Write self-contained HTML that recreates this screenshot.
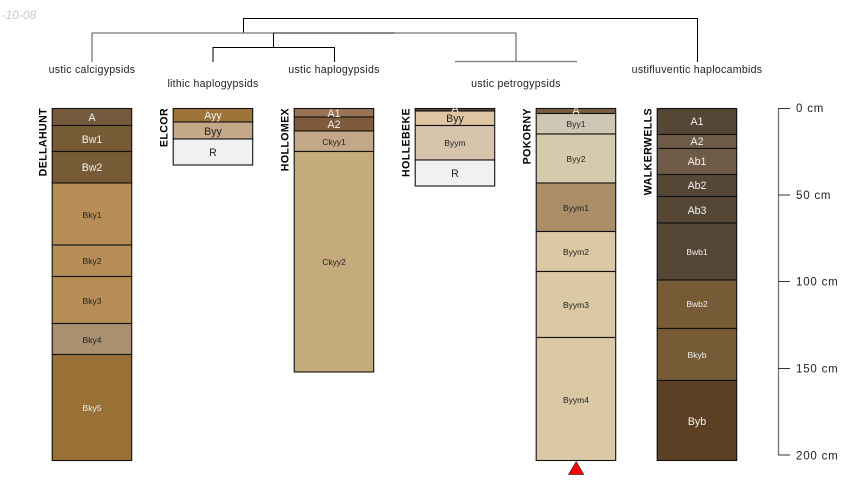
<!DOCTYPE html>
<html><head><meta charset="utf-8"><style>
html,body{margin:0;padding:0;background:#fff}
svg{display:block}
text{font-family:"Liberation Sans",sans-serif}
.t{font-size:10.6px;fill:#222;text-anchor:middle;letter-spacing:.27px}
.n{font-size:10.6px;font-weight:bold;fill:#000;text-anchor:end;letter-spacing:.4px}
.l{font-size:10.6px;text-anchor:middle}
.s{font-size:8.5px;text-anchor:middle}
.a{font-size:11.5px;fill:#222;letter-spacing:.8px}
.h{stroke:#000;stroke-width:1.100;fill:none}
.h rect{stroke:#111}
</style></head><body>
<svg width="850" height="500" viewBox="0 0 850 500" xmlns="http://www.w3.org/2000/svg">
<rect width="850" height="500" fill="#fff"/>
<text x="1.500" y="19" font-size="12" font-style="italic" fill="#c8c8c8">-10-08</text>

<g fill="none" stroke-width="1">
<path d="M243.500 33V18.500H697.500V62" stroke="#000"/>
<path d="M92 62V33H273" stroke="#777" stroke-width="1.300"/>
<path d="M273 33H395" stroke="#444" stroke-width="1.300"/>
<path d="M395 33H516V61.500" stroke="#777" stroke-width="1.300"/>
<path d="M455 61.500H577" stroke="#777" stroke-width="1.300"/>
<path d="M273.500 33V47.500" stroke="#000"/>
<path d="M213 62V47.500H334.500V62" stroke="#000"/>
</g>
<text class="t" x="92" y="73">ustic calcigypsids</text>
<text class="t" x="213" y="87">lithic haplogypsids</text>
<text class="t" x="334" y="73">ustic haplogypsids</text>
<text class="t" x="516" y="87">ustic petrogypsids</text>
<text class="t" x="697" y="73">ustifluventic haplocambids</text>

<!-- DELLAHUNT -->
<text class="n" transform="translate(46.500 108) rotate(-90)">DELLAHUNT</text>
<g class="h">
<rect x="52.200" y="108.500" width="79.500" height="17" fill="#75593d"/>
<rect x="52.200" y="125.500" width="79.500" height="26" fill="#775a36"/>
<rect x="52.200" y="151.500" width="79.500" height="31.500" fill="#775a36"/>
<rect x="52.200" y="183" width="79.500" height="62" fill="#b68e55"/>
<rect x="52.200" y="245" width="79.500" height="31.500" fill="#b68e55"/>
<rect x="52.200" y="276.500" width="79.500" height="47" fill="#b68e55"/>
<rect x="52.200" y="323.500" width="79.500" height="31" fill="#a99172"/>
<rect x="52.200" y="354.500" width="79.500" height="106" fill="#997136"/>
</g>
<text class="l" x="92" y="121" fill="#f2f2f2">A</text>
<text class="l" x="92" y="143" fill="#f2f2f2">Bw1</text>
<text class="l" x="92" y="171" fill="#f2f2f2">Bw2</text>
<text class="s" x="92" y="218" fill="#222">Bky1</text>
<text class="s" x="92" y="264" fill="#222">Bky2</text>
<text class="s" x="92" y="304" fill="#222">Bky3</text>
<text class="s" x="92" y="343" fill="#222">Bky4</text>
<text class="s" x="92" y="411" fill="#eee">Bky5</text>

<!-- ELCOR -->
<text class="n" transform="translate(167.500 108) rotate(-90)">ELCOR</text>
<g class="h">
<rect x="173.200" y="108.500" width="79.500" height="13.500" fill="#9d7439"/>
<rect x="173.200" y="122" width="79.500" height="17" fill="#c4a988"/>
<rect x="173.200" y="139" width="79.500" height="26" fill="#f1f1f1"/>
</g>
<text class="l" x="213" y="119" fill="#f2f2f2">Ayy</text>
<text class="l" x="213" y="135" fill="#222">Byy</text>
<text class="l" x="213" y="156" fill="#222">R</text>

<!-- HOLLOMEX -->
<text class="n" transform="translate(288.500 108) rotate(-90)">HOLLOMEX</text>
<g class="h">
<rect x="294.200" y="108.500" width="79.500" height="8.500" fill="#987355"/>
<rect x="294.200" y="117" width="79.500" height="14" fill="#7e5b3c"/>
<rect x="294.200" y="131" width="79.500" height="20.500" fill="#c2a888"/>
<rect x="294.200" y="151.500" width="79.500" height="220.500" fill="#c4ab7c"/>
</g>
<text class="l" x="334" y="117" fill="#f2f2f2">A1</text>
<text class="l" x="334" y="128" fill="#f2f2f2">A2</text>
<text class="s" x="334" y="145" fill="#222">Ckyy1</text>
<text class="s" x="334" y="265" fill="#222">Ckyy2</text>

<!-- HOLLEBEKE -->
<text class="n" transform="translate(409.500 108) rotate(-90)">HOLLEBEKE</text>
<g class="h">
<rect x="415.200" y="108.500" width="79.500" height="2.500" fill="#5b4a3a"/>
<rect x="415.200" y="111" width="79.500" height="14.500" fill="#dfc6a2"/>
<rect x="415.200" y="125.500" width="79.500" height="34.500" fill="#d6c4ac"/>
<rect x="415.200" y="160" width="79.500" height="26" fill="#f1f1f1"/>
</g>
<text class="l" x="455" y="112" fill="#f2f2f2">A</text>
<text class="l" x="455" y="122" fill="#222">Byy</text>
<text class="s" x="455" y="146" fill="#222">Byym</text>
<text class="l" x="455" y="177" fill="#222">R</text>

<!-- POKORNY -->
<text class="n" transform="translate(530.500 108) rotate(-90)">POKORNY</text>
<g class="h">
<rect x="536.200" y="108.500" width="79.500" height="5" fill="#7c5e3f"/>
<rect x="536.200" y="113.500" width="79.500" height="20.500" fill="#d0c6b6"/>
<rect x="536.200" y="134" width="79.500" height="49" fill="#d5cbac"/>
<rect x="536.200" y="183" width="79.500" height="48.500" fill="#ab8e68"/>
<rect x="536.200" y="231.500" width="79.500" height="40" fill="#dac9a4"/>
<rect x="536.200" y="271.500" width="79.500" height="66" fill="#dac9a4"/>
<rect x="536.200" y="337.500" width="79.500" height="123" fill="#dac9a4"/>
</g>
<text class="l" x="576" y="114" fill="#f2f2f2">A</text>
<text class="s" x="576" y="127" fill="#222">Byy1</text>
<text class="s" x="576" y="162" fill="#222">Byy2</text>
<text class="s" x="576" y="211" fill="#222">Byym1</text>
<text class="s" x="576" y="255" fill="#222">Byym2</text>
<text class="s" x="576" y="308" fill="#222">Byym3</text>
<text class="s" x="576" y="403" fill="#222">Byym4</text>
<polygon points="576.200,461.500 568.500,474.500 583.800,474.500" fill="#f00" stroke="#333" stroke-width=".7"/>

<!-- WALKERWELLS -->
<text class="n" transform="translate(651.500 108) rotate(-90)">WALKERWELLS</text>
<g class="h">
<rect x="657.200" y="108.500" width="79.500" height="26" fill="#554636"/>
<rect x="657.200" y="134.500" width="79.500" height="14" fill="#6e5b47"/>
<rect x="657.200" y="148.500" width="79.500" height="26" fill="#6e5b47"/>
<rect x="657.200" y="174.500" width="79.500" height="22" fill="#554636"/>
<rect x="657.200" y="196.500" width="79.500" height="26.500" fill="#554636"/>
<rect x="657.200" y="223" width="79.500" height="57" fill="#554636"/>
<rect x="657.200" y="280" width="79.500" height="48.500" fill="#775a36"/>
<rect x="657.200" y="328.500" width="79.500" height="52" fill="#775a36"/>
<rect x="657.200" y="380.500" width="79.500" height="80" fill="#5b4023"/>
</g>
<text class="l" x="697" y="125" fill="#f2f2f2">A1</text>
<text class="l" x="697" y="145" fill="#f2f2f2">A2</text>
<text class="l" x="697" y="165" fill="#f2f2f2">Ab1</text>
<text class="l" x="697" y="189" fill="#f2f2f2">Ab2</text>
<text class="l" x="697" y="214" fill="#f2f2f2">Ab3</text>
<text class="s" x="697" y="255" fill="#eee">Bwb1</text>
<text class="s" x="697" y="307" fill="#eee">Bwb2</text>
<text class="s" x="697" y="358" fill="#eee">Bkyb</text>
<text class="l" x="697" y="425" fill="#f2f2f2">Byb</text>

<!-- depth axis -->
<path d="M778.500 108.500V455" stroke="#777" stroke-width="1.300" fill="none"/>
<path d="M778 108.500H790M778 195H790M778 281.500H790M778 368.500H790M778 455H790" stroke="#333" stroke-width="1" fill="none"/>
<text class="a" x="796" y="112">0 cm</text>
<text class="a" x="796" y="199">50 cm</text>
<text class="a" x="796" y="285.500">100 cm</text>
<text class="a" x="796" y="372.500">150 cm</text>
<text class="a" x="796" y="459.500">200 cm</text>
</svg>
</body></html>
